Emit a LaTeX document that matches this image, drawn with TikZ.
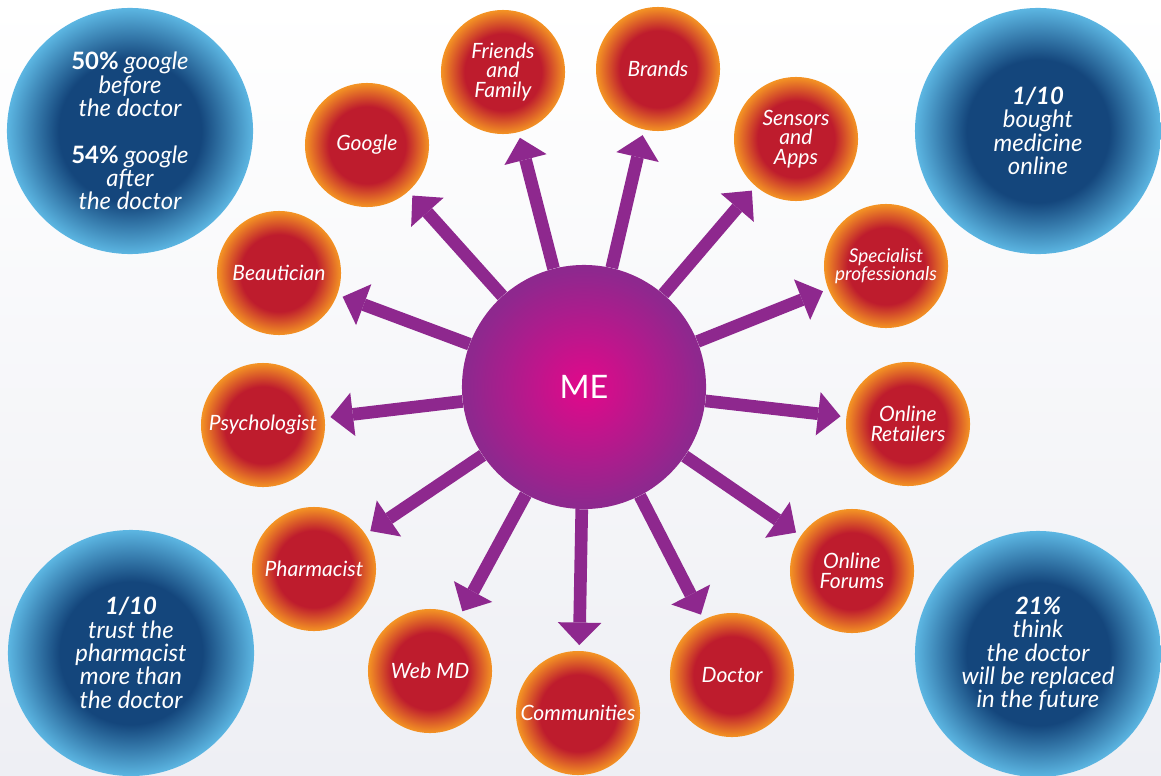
\documentclass[tikz,border=0pt]{standalone}
\usepackage{fontspec}
\setmainfont{Lato}
\usetikzlibrary{arrows.meta}
\definecolor{linkpurple}{RGB}{142,40,142}
\definecolor{mepink}{RGB}{226,8,138}
\definecolor{ballred}{RGB}{190,28,45}
\definecolor{ballorange}{RGB}{244,148,36}
\definecolor{ballnavy}{RGB}{20,70,124}
\definecolor{balllight}{RGB}{92,182,226}
\definecolor{bggray}{RGB}{238,239,244}
\pgfdeclareradialshading{redball}{\pgfpoint{0bp}{0bp}}{color(0bp)=(ballred); color(15.5bp)=(ballred); color(25bp)=(ballorange); color(50bp)=(ballorange)}
\pgfdeclareradialshading{blueball}{\pgfpoint{0bp}{0bp}}{color(0bp)=(ballnavy); color(14.5bp)=(ballnavy); color(25bp)=(balllight); color(50bp)=(balllight)}
\pgfdeclareradialshading{meball}{\pgfpoint{0bp}{0bp}}{color(0bp)=(mepink); color(24bp)=(linkpurple); color(50bp)=(linkpurple)}
\tikzset{
  topic/.style={
    circle,
    shade,
    shading=redball,
    minimum size=3.1cm,
    inner sep=0pt,
    text=white,
    align=center,
    font=\itshape\fontsize{15}{14}\selectfont
  },
  fact/.style={
    circle,
    shade,
    shading=blueball,
    minimum size=6.15cm,
    inner sep=0pt,
    text=white,
    align=center,
    font=\itshape\fontsize{17}{16.6}\selectfont
  },
  hub/.style={
    circle,
    shade,
    shading=meball,
    minimum size=6.1cm,
    text=white,
    font=\fontsize{23}{23}\selectfont
  },
  link/.style={
    draw=linkpurple,
    line width=9pt,
    -{Triangle[width=31pt,length=16pt,line width=0pt]},
    shorten >=4pt
  }
}
\newcommand{\stat}[1]{\textbf{#1}}
\newcommand{\statup}[1]{\textup{\textbf{#1}}}

\begin{document}
\begin{tikzpicture}[x=0.025cm,y=-0.025cm]
\useasboundingbox (0,0) rectangle (1161,775);
\shade[top color=white,bottom color=bggray] (0,0) rectangle (1161,775);

\node[fact] (before after) at (130,131) {\statup{50\%} google\\before\\the doctor\\[16.6pt]\statup{54\%} google\\after\\the doctor};
\node[fact] (bought) at (1038,131) {\stat{1/10}\\bought\\medicine\\online};
\node[fact] (trust) at (131,653) {\stat{1/10}\\trust the\\pharmacist\\more than\\the doctor};
\node[fact] (replaced) at (1038,654) {\stat{21\%}\\think\\the doctor\\will be replaced\\in the future};

\node[topic] (google) at (367,145) {Google};
\node[topic] (friends) at (503,72) {Friends\\and\\Family};
\node[topic] (brands) at (658,69) {Brands};
\node[topic] (sensors) at (796,139) {Sensors\\and\\Apps};
\node[topic,font=\itshape\fontsize{13.5}{13}\selectfont] (specialists) at (886,266) {Specialist\\professionals};
\node[topic] (retailers) at (908,424) {Online\\Retailers};
\node[topic] (forums) at (852,571) {Online\\Forums};
\node[topic] (doctor) at (732,675) {Doctor};
\node[topic] (communities) at (578,713) {Communities};
\node[topic] (webmd) at (430,671) {Web MD};
\node[topic] (pharmacist) at (314,569) {Pharmacist};
\node[topic] (psychologist) at (263,425) {Psychologist};
\node[topic] (beautician) at (279,273) {Beautician};

\node[hub] (me) at (584,387) {ME};

\foreach \t in {google,friends,brands,sensors,specialists,retailers,forums,doctor,communities,webmd,pharmacist,psychologist,beautician}
  \draw[link] (me) -- (\t);
\end{tikzpicture}
\end{document}
